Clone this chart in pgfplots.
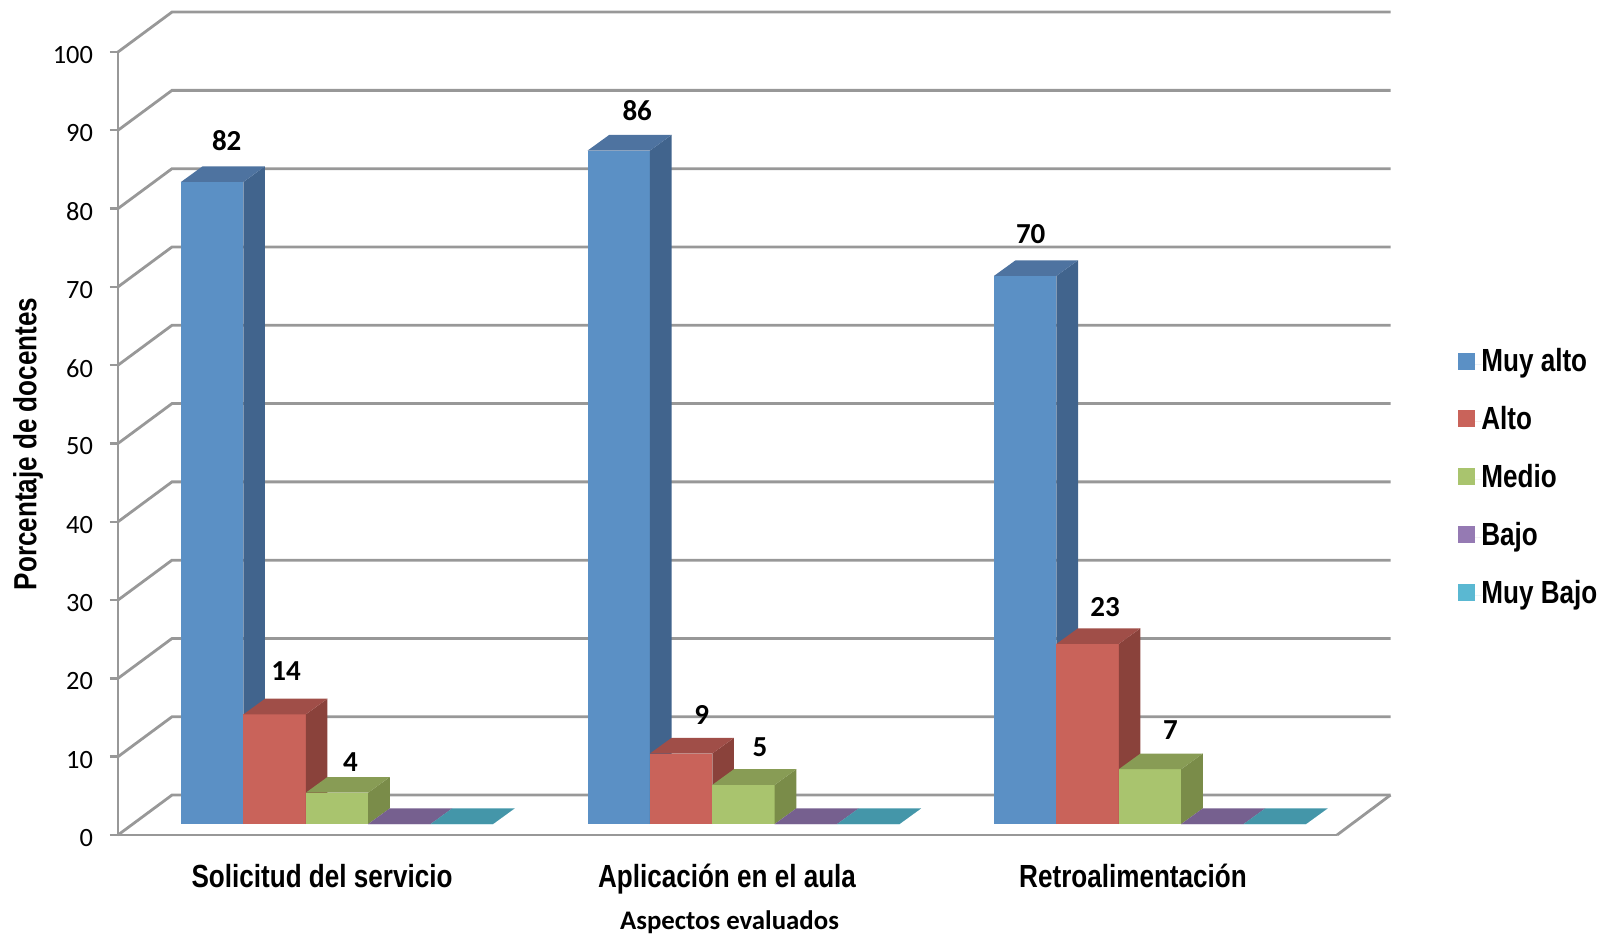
\documentclass[border=0pt]{standalone}
\usepackage{pgfplots}
\pgfplotsset{compat=1.18}
\usepackage{fontspec}
\setmainfont{Carlito}
\newfontfamily\arialn[FakeStretch=0.815]{Liberation Sans}

\definecolor{wallgray}{HTML}{989898}
\definecolor{bluef}{HTML}{5B90C5}
\definecolor{blues}{HTML}{41648D}
\definecolor{bluet}{HTML}{4E73A0}
\definecolor{redf}{HTML}{C9635A}
\definecolor{reds}{HTML}{8A423B}
\definecolor{redt}{HTML}{A04E48}
\definecolor{greenf}{HTML}{A9C46E}
\definecolor{greens}{HTML}{7A8C49}
\definecolor{greent}{HTML}{889C55}
\definecolor{purplef}{HTML}{957AB3}
\definecolor{purplet}{HTML}{76608F}
\definecolor{tealf}{HTML}{5AB8D2}
\definecolor{tealt}{HTML}{4496A9}

% one bar: left x, value, front, side and top colour, plot option
\newcommand\barthreed[6]{%
  \pgfmathsetmacro\xa{#1}%
  \pgfmathsetmacro\xb{#1+62.4}%
  \pgfmathsetmacro\xc{#1+21.6}%
  \pgfmathsetmacro\xd{#1+84}%
  \pgfmathsetmacro\ya{1.4+#2}%
  \pgfmathsetmacro\yb{3.4+#2}%
  \addplot[fill=#3,draw=none,#6] coordinates {(\xa,1.4)(\xb,1.4)(\xb,\ya)(\xa,\ya)} --cycle;
  \addplot[fill=#4,draw=none,forget plot] coordinates {(\xb,1.4)(\xd,3.4)(\xd,\yb)(\xb,\ya)} --cycle;
  \addplot[fill=#5,draw=none,forget plot] coordinates {(\xa,\ya)(\xc,\yb)(\xd,\yb)(\xb,\ya)} --cycle;
}
% value label: left x of the bar, value, shift in x, shift in y
\newcommand\barlabel[4]{%
  \pgfmathsetmacro\xl{#1+42.7+#3}%
  \pgfmathsetmacro\yl{#2+6.8+#4}%
  \edef\tmp{\noexpand\node[font=\noexpand\bfseries\noexpand\fontsize{14.5}{16}\noexpand\selectfont,anchor=center] at (axis cs:\xl,\yl) {#2};}%
  \tmp
}
% one group: left x, five values, plot option
\newcommand\drawgroup[7]{%
  \pgfmathsetmacro\xB{#1+62.4}\let\xBsave\xB
  \pgfmathsetmacro\xC{#1+124.8}\let\xCsave\xC
  \pgfmathsetmacro\xD{#1+187.2}\let\xDsave\xD
  \pgfmathsetmacro\xE{#1+249.6}\let\xEsave\xE
  \barthreed{#1}{#2}{bluef}{blues}{bluet}{#7}
  \barthreed{\xBsave}{#3}{redf}{reds}{redt}{#7}
  \barthreed{\xCsave}{#4}{greenf}{greens}{greent}{#7}
  \barthreed{\xDsave}{#5}{purplef}{purplet}{purplet}{#7}
  \barthreed{\xEsave}{#6}{tealf}{tealt}{tealt}{#7}
}
% gridline on the walls
\newcommand\wall[2]{%
  \addplot[wallgray,line width=1.4pt,forget plot] coordinates {(118,#1)(172,#2)(1390.5,#2)};
}

\begin{document}
\begin{tikzpicture}
\begin{axis}[
  scale only axis,
  width=609.5pt, height=391.5pt,
  xmin=118, xmax=1337,
  ymin=0, ymax=100,
  clip=false,
  axis lines=left,
  axis line style={wallgray,line width=1.4pt,-},
  /pgf/number format/assume math mode=true,
  ytick={0,10,...,100},
  xtick={322,727,1133},
  xticklabels={Solicitud del servicio,Aplicación en el aula,Retroalimentación},
  tick align=outside,
  major tick length=4pt,
  y tick style={wallgray,line width=1.2pt},
  x tick style={draw=none},
  yticklabel style={font=\fontsize{13.2}{14}\selectfont,anchor=east,xshift=-5pt,yshift=-1.5pt},
  xticklabel style={font=\arialn\bfseries\fontsize{16}{17}\selectfont,anchor=base,yshift=-22.5pt},
  xlabel={Aspectos evaluados},
  ylabel={Porcentaje de docentes},
  every axis x label/.style={at={(axis cs:729.5,-11.15)},anchor=center,font=\bfseries\fontsize{13.4}{14}\selectfont},
  every axis y label/.style={at={(axis cs:28,49.95)},anchor=center,rotate=90,font=\arialn\bfseries\fontsize{16}{17}\selectfont},
  legend image code/.code={\fill[#1] (0pt,-2.75pt) rectangle (8.5pt,5.75pt);\path (0pt,0pt) -- (11.5pt,0pt);},
  legend cell align=left,
  legend style={at={(axis cs:1458,62.05)},anchor=north west,draw=none,fill=none,inner sep=0pt,
    font=\arialn\bfseries\fontsize{16}{17}\selectfont,row sep=14.45pt,
    nodes={inner sep=0pt,text height=11pt,text depth=3.5pt}},
]
\wall{0}{5.1}
\wall{10}{15.1}
\wall{20}{25.1}
\wall{30}{35.1}
\wall{40}{45.1}
\wall{50}{55.1}
\wall{60}{65.1}
\wall{70}{75.1}
\wall{80}{85.1}
\wall{90}{95.1}
\wall{100}{105.1}
\addplot[wallgray,line width=1.4pt,forget plot] coordinates {(1337,0)(1390.5,5.1)};

\drawgroup{181}{82}{14}{4}{0}{0}{}
\drawgroup{587.5}{86}{9}{5}{0}{0}{forget plot}
\drawgroup{994}{70}{23}{7}{0}{0}{forget plot}

\barlabel{181}{82}{3}{-.13}
\barlabel{243.4}{14}{0}{.13}
\barlabel{305.8}{4}{2}{-1.43}
\barlabel{587.5}{86}{7}{-.26}
\barlabel{649.9}{9}{9}{-.52}
\barlabel{712.3}{5}{5}{-.65}
\barlabel{994}{70}{-6}{0}
\barlabel{1056.4}{23}{6}{-.65}
\barlabel{1118.8}{7}{9}{-.39}

\legend{Muy alto,Alto,Medio,Bajo,Muy Bajo}
\path (axis cs:0,-12.516) rectangle (axis cs:1602,106.64);
\end{axis}
\end{tikzpicture}
\end{document}
